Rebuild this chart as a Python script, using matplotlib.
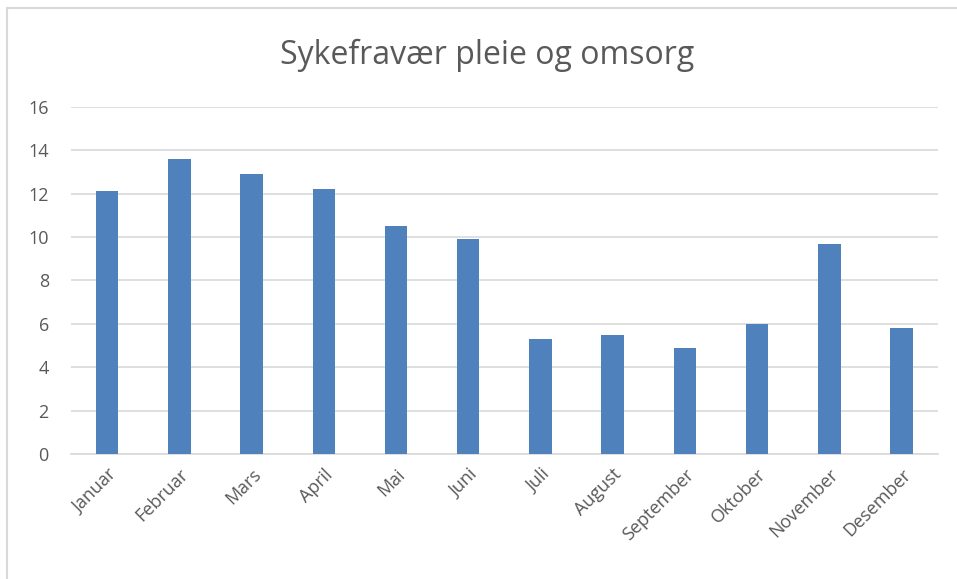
import matplotlib.pyplot as plt
from matplotlib.lines import Line2D

months = ['Januar', 'Februar', 'Mars', 'April', 'Mai', 'Juni',
          'Juli', 'August', 'September', 'Oktober', 'November', 'Desember']
values = [12.1, 13.6, 12.9, 12.2, 10.5, 9.9, 5.3, 5.5, 4.9, 6.0, 9.7, 5.8]
yticks = [0, 2, 4, 6, 8, 10, 12, 14, 16]

plt.rcParams['font.family'] = ['Open Sans', 'DejaVu Sans']
text_color = '#595959'

fig = plt.figure(figsize=(9.57, 5.79), dpi=100)
ax = fig.add_axes([0.0742, 0.2154, 0.9056, 0.6003])

x = range(len(months))
ax.bar(x, values, width=0.31, color='#4F81BD', zorder=3)

ax.set_xlim(-0.5, len(months) - 0.5)
ax.set_ylim(0, 16)
ax.set_yticks(yticks)
ax.set_xticks(list(x))
ax.set_xticklabels(months, rotation=45, ha='right', rotation_mode='anchor')

ax.grid(axis='y', color='#D9D9D9', linewidth=1.2, zorder=0)
for s in ['top', 'right', 'left']:
    ax.spines[s].set_visible(False)
ax.spines['bottom'].set_color('#D9D9D9')
ax.spines['bottom'].set_linewidth(1.2)
ax.tick_params(axis='both', length=0, labelsize=13, colors=text_color)
ax.tick_params(axis='y', pad=16)
ax.tick_params(axis='x', pad=8)

fig.text(0.509, 0.905, 'Sykefravær pleie og omsorg', ha='center', va='center',
         fontsize=23, color=text_color)

# kantlinjer oppe og til venstre (diagrammet er beskaaret)
fig.lines.append(Line2D([7 / 957, 1], [1 - 7.5 / 579] * 2, transform=fig.transFigure,
                        color='#D9D9D9', linewidth=1.5))
fig.lines.append(Line2D([7 / 957] * 2, [0, 1 - 7.5 / 579], transform=fig.transFigure,
                        color='#D9D9D9', linewidth=1.5))

fig.savefig('out.png', dpi=100)
